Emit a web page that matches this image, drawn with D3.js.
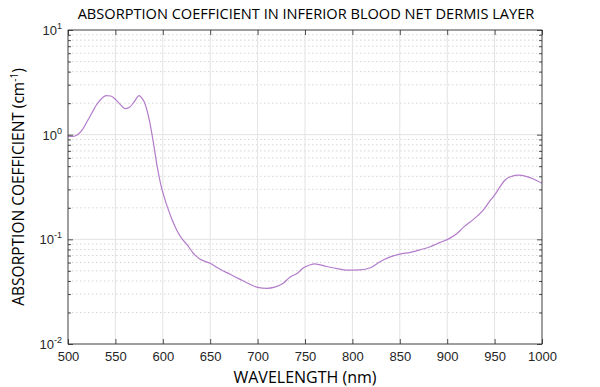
<!DOCTYPE html>
<html>
<head>
<meta charset="utf-8">
<script src="https://d3js.org/d3.v7.min.js"></script>
<style>
  body { margin: 0; background: #fff; }
  .tick text { font: 13px "Liberation Sans", Arial, sans-serif; fill: #262626; }
  .lbl { font-family: "Open Sans", "Noto Sans", sans-serif; fill: #000; }
</style>
</head>
<body>
<script>
// data
var wavelength = [500, 505, 510, 515, 520, 525, 530, 535, 540, 545, 550, 555, 560, 565, 570, 575, 578, 580, 583, 586, 590, 594, 598, 602, 606, 610, 615, 620, 626, 631, 634, 639, 650, 660, 671, 681, 692, 700, 710, 718, 727, 734, 742, 748, 755, 760, 773, 784, 794, 808, 819, 829, 840, 850, 861, 871, 882, 892, 903, 910, 917, 928, 938, 945, 950, 956, 961, 968, 975, 984, 991, 1000];
var absorption = [0.97, 0.965, 1.0, 1.11, 1.33, 1.6, 1.92, 2.19, 2.36, 2.34, 2.18, 1.95, 1.77, 1.83, 2.07, 2.36, 2.23, 2.1, 1.75, 1.35, 0.85, 0.5, 0.33, 0.245, 0.19, 0.152, 0.121, 0.102, 0.088, 0.076, 0.0707, 0.065, 0.059, 0.052, 0.0464, 0.0417, 0.0372, 0.0347, 0.034, 0.0349, 0.038, 0.0434, 0.0475, 0.0531, 0.0568, 0.0583, 0.055, 0.0525, 0.0508, 0.051, 0.0535, 0.0611, 0.068, 0.0723, 0.075, 0.0793, 0.085, 0.093, 0.1027, 0.113, 0.13, 0.156, 0.19, 0.233, 0.265, 0.32, 0.369, 0.40, 0.41, 0.397, 0.377, 0.343];
var xTicks = [500, 550, 600, 650, 700, 750, 800, 850, 900, 950, 1000];
var yDecades = [0.01, 0.1, 1, 10];

var W = 600, H = 387;
var m = {l: 68, r: 58, t: 30, b: 43};
var iw = W - m.l - m.r, ih = H - m.t - m.b;

var svg = d3.select("body").append("svg").attr("width", W).attr("height", H);
var g = svg.append("g").attr("transform", "translate(" + m.l + "," + m.t + ")");

var x = d3.scaleLinear().domain([500, 1000]).range([0, iw]);
var y = d3.scaleLog().domain([0.01, 10]).range([ih, 0]);

// minor y values
var minor = [];
yDecades.slice(0, 3).forEach(function(d) {
  for (var k = 2; k <= 9; k++) minor.push(d * k);
});

// grid
g.selectAll(".ymin").data(minor).enter().append("line")
  .attr("x1", 0).attr("x2", iw)
  .attr("y1", function(d) { return y(d); }).attr("y2", function(d) { return y(d); })
  .attr("stroke", "#d6d6d6").attr("stroke-dasharray", "1.5,2.5").attr("stroke-width", 1);
g.selectAll(".xgrid").data(xTicks).enter().append("line")
  .attr("x1", function(d) { return x(d); }).attr("x2", function(d) { return x(d); })
  .attr("y1", 0).attr("y2", ih)
  .attr("stroke", "#e3e3e3").attr("stroke-width", 1);
g.selectAll(".ygrid").data(yDecades).enter().append("line")
  .attr("x1", 0).attr("x2", iw)
  .attr("y1", function(d) { return y(d); }).attr("y2", function(d) { return y(d); })
  .attr("stroke", "#e3e3e3").attr("stroke-width", 1);

// curve
var line = d3.line()
  .x(function(d, i) { return x(wavelength[i]); })
  .y(function(d) { return y(d); })
  .curve(d3.curveMonotoneX);
g.append("path").datum(absorption)
  .attr("d", line)
  .attr("fill", "none")
  .attr("stroke", "#b37ccb")
  .attr("stroke-width", 1.2);

// axes box
g.append("rect").attr("width", iw).attr("height", ih)
  .attr("fill", "none").attr("stroke", "#262626").attr("stroke-width", 0.8);

var axB = g.append("g").attr("transform", "translate(0," + ih + ")")
  .call(d3.axisBottom(x).tickValues(xTicks).tickSize(-5).tickPadding(8).tickFormat(d3.format("d")));
var axT = g.append("g")
  .call(d3.axisTop(x).tickValues(xTicks).tickSize(-5).tickFormat(""));
var axL = g.append("g")
  .call(d3.axisLeft(y).tickValues(yDecades).tickSize(-5).tickPadding(6).tickFormat(""));
var axR = g.append("g").attr("transform", "translate(" + iw + ",0)")
  .call(d3.axisRight(y).tickValues(yDecades).tickSize(-5).tickFormat(""));
var axRm = g.append("g").attr("transform", "translate(" + iw + ",0)")
  .call(d3.axisRight(y).tickValues(minor).tickSize(-3).tickFormat(""));
var axLm = g.append("g")
  .call(d3.axisLeft(y).tickValues(minor).tickSize(-3).tickFormat(""));
[axB, axT, axL, axR, axRm, axLm].forEach(function(a) {
  a.select(".domain").remove();
  a.selectAll(".tick line").attr("stroke", "#262626").attr("stroke-width", 0.8);
});

// y tick labels as 10^n
var yl = g.selectAll(".ylab").data(yDecades).enter().append("text")
  .attr("x", -6).attr("y", function(d) { return y(d) + 5; })
  .attr("text-anchor", "end")
  .style("font", "13px 'Liberation Sans', Arial, sans-serif").style("fill", "#262626");
yl.append("tspan").text("10");
yl.append("tspan").attr("dy", -6).style("font-size", "9px")
  .text(function(d) { return String(Math.round(Math.log10(d))); });

// title and labels
svg.append("text").attr("class", "lbl")
  .attr("x", m.l + iw / 2 + 1).attr("y", 19)
  .attr("text-anchor", "middle").style("font-size", "14.6px")
  .text("ABSORPTION COEFFICIENT IN INFERIOR BLOOD NET DERMIS LAYER");

svg.append("text").attr("class", "lbl")
  .attr("x", m.l + iw / 2).attr("y", 383)
  .attr("text-anchor", "middle").style("font-size", "16px")
  .text("WAVELENGTH (nm)");

var ylab = svg.append("text").attr("class", "lbl")
  .attr("transform", "translate(24," + (m.t + ih / 2) + ") rotate(-90)")
  .attr("text-anchor", "middle").style("font-size", "15.5px");
ylab.append("tspan").text("ABSORPTION COEFFICIENT (cm");
ylab.append("tspan").attr("dy", -6).style("font-size", "10px").text("-1");
ylab.append("tspan").attr("dy", 6).text(")");
</script>
</body>
</html>
